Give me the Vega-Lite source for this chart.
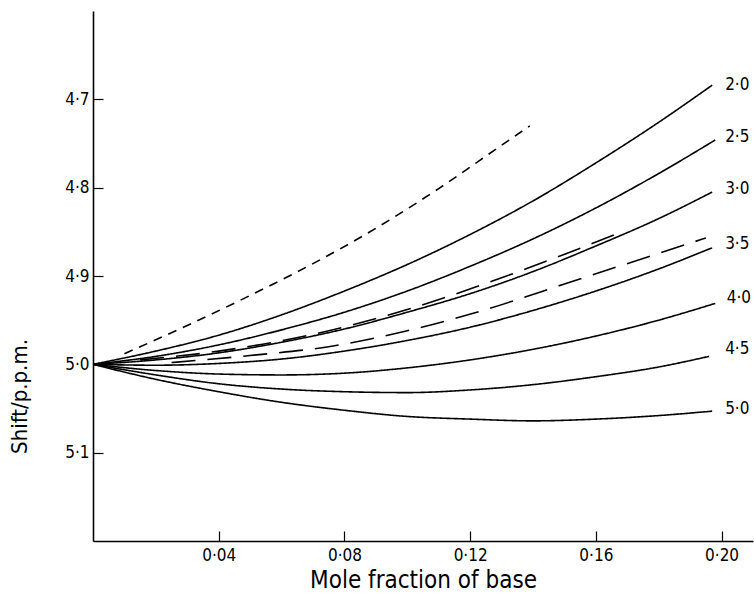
{
  "$schema": "https://vega.github.io/schema/vega-lite/v6.json",
  "autosize": {"type": "none"},
  "padding": {"left": 93, "top": 11, "right": 1, "bottom": 53},
  "width": 660,
  "height": 530,
  "background": "white",
  "config": {"view": {"stroke": null}, "font": "DejaVu Sans Condensed"},
  "datasets": {
    "curves": [
      {"series": "2.0", "style": "solid", "x": 0, "y": 5.0},
      {"series": "2.0", "style": "solid", "x": 0.02, "y": 4.985},
      {"series": "2.0", "style": "solid", "x": 0.04, "y": 4.967},
      {"series": "2.0", "style": "solid", "x": 0.06, "y": 4.944},
      {"series": "2.0", "style": "solid", "x": 0.08, "y": 4.917},
      {"series": "2.0", "style": "solid", "x": 0.10, "y": 4.887},
      {"series": "2.0", "style": "solid", "x": 0.12, "y": 4.853},
      {"series": "2.0", "style": "solid", "x": 0.14, "y": 4.815},
      {"series": "2.0", "style": "solid", "x": 0.16, "y": 4.772},
      {"series": "2.0", "style": "solid", "x": 0.18, "y": 4.726},
      {"series": "2.0", "style": "solid", "x": 0.197, "y": 4.684},
      {"series": "2.5", "style": "solid", "x": 0, "y": 5.0},
      {"series": "2.5", "style": "solid", "x": 0.02, "y": 4.991},
      {"series": "2.5", "style": "solid", "x": 0.04, "y": 4.978},
      {"series": "2.5", "style": "solid", "x": 0.06, "y": 4.961},
      {"series": "2.5", "style": "solid", "x": 0.08, "y": 4.941},
      {"series": "2.5", "style": "solid", "x": 0.10, "y": 4.917},
      {"series": "2.5", "style": "solid", "x": 0.12, "y": 4.889},
      {"series": "2.5", "style": "solid", "x": 0.14, "y": 4.858},
      {"series": "2.5", "style": "solid", "x": 0.16, "y": 4.823},
      {"series": "2.5", "style": "solid", "x": 0.18, "y": 4.784},
      {"series": "2.5", "style": "solid", "x": 0.198, "y": 4.746},
      {"series": "3.0", "style": "solid", "x": 0, "y": 5.0},
      {"series": "3.0", "style": "solid", "x": 0.02, "y": 4.995},
      {"series": "3.0", "style": "solid", "x": 0.04, "y": 4.987},
      {"series": "3.0", "style": "solid", "x": 0.06, "y": 4.975},
      {"series": "3.0", "style": "solid", "x": 0.08, "y": 4.960},
      {"series": "3.0", "style": "solid", "x": 0.10, "y": 4.941},
      {"series": "3.0", "style": "solid", "x": 0.12, "y": 4.920},
      {"series": "3.0", "style": "solid", "x": 0.14, "y": 4.895},
      {"series": "3.0", "style": "solid", "x": 0.16, "y": 4.866},
      {"series": "3.0", "style": "solid", "x": 0.18, "y": 4.835},
      {"series": "3.0", "style": "solid", "x": 0.197, "y": 4.805},
      {"series": "3.5", "style": "solid", "x": 0, "y": 5.0},
      {"series": "3.5", "style": "solid", "x": 0.02, "y": 5.001},
      {"series": "3.5", "style": "solid", "x": 0.04, "y": 4.999},
      {"series": "3.5", "style": "solid", "x": 0.06, "y": 4.994},
      {"series": "3.5", "style": "solid", "x": 0.08, "y": 4.985},
      {"series": "3.5", "style": "solid", "x": 0.10, "y": 4.973},
      {"series": "3.5", "style": "solid", "x": 0.12, "y": 4.958},
      {"series": "3.5", "style": "solid", "x": 0.14, "y": 4.939},
      {"series": "3.5", "style": "solid", "x": 0.16, "y": 4.917},
      {"series": "3.5", "style": "solid", "x": 0.18, "y": 4.892},
      {"series": "3.5", "style": "solid", "x": 0.197, "y": 4.868},
      {"series": "4.0", "style": "solid", "x": 0, "y": 5.0},
      {"series": "4.0", "style": "solid", "x": 0.02, "y": 5.007},
      {"series": "4.0", "style": "solid", "x": 0.04, "y": 5.011},
      {"series": "4.0", "style": "solid", "x": 0.06, "y": 5.012},
      {"series": "4.0", "style": "solid", "x": 0.08, "y": 5.010},
      {"series": "4.0", "style": "solid", "x": 0.10, "y": 5.004},
      {"series": "4.0", "style": "solid", "x": 0.12, "y": 4.995},
      {"series": "4.0", "style": "solid", "x": 0.14, "y": 4.983},
      {"series": "4.0", "style": "solid", "x": 0.16, "y": 4.968},
      {"series": "4.0", "style": "solid", "x": 0.18, "y": 4.950},
      {"series": "4.0", "style": "solid", "x": 0.198, "y": 4.931},
      {"series": "4.5", "style": "solid", "x": 0, "y": 5.0},
      {"series": "4.5", "style": "solid", "x": 0.02, "y": 5.012},
      {"series": "4.5", "style": "solid", "x": 0.04, "y": 5.022},
      {"series": "4.5", "style": "solid", "x": 0.06, "y": 5.028},
      {"series": "4.5", "style": "solid", "x": 0.08, "y": 5.031},
      {"series": "4.5", "style": "solid", "x": 0.10, "y": 5.032},
      {"series": "4.5", "style": "solid", "x": 0.12, "y": 5.029},
      {"series": "4.5", "style": "solid", "x": 0.14, "y": 5.023},
      {"series": "4.5", "style": "solid", "x": 0.16, "y": 5.014},
      {"series": "4.5", "style": "solid", "x": 0.18, "y": 5.003},
      {"series": "4.5", "style": "solid", "x": 0.196, "y": 4.991},
      {"series": "5.0", "style": "solid", "x": 0, "y": 5.0},
      {"series": "5.0", "style": "solid", "x": 0.02, "y": 5.017},
      {"series": "5.0", "style": "solid", "x": 0.04, "y": 5.031},
      {"series": "5.0", "style": "solid", "x": 0.06, "y": 5.043},
      {"series": "5.0", "style": "solid", "x": 0.08, "y": 5.052},
      {"series": "5.0", "style": "solid", "x": 0.10, "y": 5.059},
      {"series": "5.0", "style": "solid", "x": 0.12, "y": 5.062},
      {"series": "5.0", "style": "solid", "x": 0.14, "y": 5.064},
      {"series": "5.0", "style": "solid", "x": 0.16, "y": 5.062},
      {"series": "5.0", "style": "solid", "x": 0.18, "y": 5.058},
      {"series": "5.0", "style": "solid", "x": 0.197, "y": 5.053},
      {"series": "short", "style": "short", "x": 0.01, "y": 4.988},
      {"series": "short", "style": "short", "x": 0.03, "y": 4.956},
      {"series": "short", "style": "short", "x": 0.05, "y": 4.922},
      {"series": "short", "style": "short", "x": 0.07, "y": 4.886},
      {"series": "short", "style": "short", "x": 0.09, "y": 4.846},
      {"series": "short", "style": "short", "x": 0.11, "y": 4.801},
      {"series": "short", "style": "short", "x": 0.13, "y": 4.752},
      {"series": "short", "style": "short", "x": 0.139, "y": 4.730},
      {"series": "longA", "style": "long", "x": 0.015, "y": 4.995},
      {"series": "longA", "style": "long", "x": 0.04, "y": 4.985},
      {"series": "longA", "style": "long", "x": 0.07, "y": 4.966},
      {"series": "longA", "style": "long", "x": 0.10, "y": 4.938},
      {"series": "longA", "style": "long", "x": 0.13, "y": 4.902},
      {"series": "longA", "style": "long", "x": 0.169, "y": 4.849},
      {"series": "longB", "style": "long", "x": 0.025, "y": 4.998},
      {"series": "longB", "style": "long", "x": 0.05, "y": 4.990},
      {"series": "longB", "style": "long", "x": 0.075, "y": 4.980},
      {"series": "longB", "style": "long", "x": 0.10, "y": 4.962},
      {"series": "longB", "style": "long", "x": 0.125, "y": 4.938},
      {"series": "longB", "style": "long", "x": 0.15, "y": 4.909},
      {"series": "longB", "style": "long", "x": 0.176, "y": 4.879},
      {"series": "longB", "style": "long", "x": 0.195, "y": 4.857}
    ],
    "labels": [
      {"label": "2·0", "x": 0.205, "y": 4.684},
      {"label": "2·5", "x": 0.205, "y": 4.743},
      {"label": "3·0", "x": 0.205, "y": 4.802},
      {"label": "3·5", "x": 0.205, "y": 4.864},
      {"label": "4·0", "x": 0.2055, "y": 4.925},
      {"label": "4·5", "x": 0.205, "y": 4.983},
      {"label": "5·0", "x": 0.205, "y": 5.051}
    ]
  },
  "layer": [
    {
      "data": {"name": "curves"},
      "mark": {"type": "line", "color": "black", "strokeWidth": 1.6, "interpolate": "monotone"},
      "encoding": {
        "x": {
          "field": "x", "type": "quantitative",
          "scale": {"domain": [0, 0.21], "nice": false, "zero": false},
          "axis": {
            "title": "Mole fraction of base",
            "values": [0.04, 0.08, 0.12, 0.16, 0.2],
            "labelExpr": "replace(format(datum.value, '.2f'), '.', '·')",
            "grid": false,
            "domainColor": "black", "domainWidth": 1.6,
            "tickColor": "black", "tickWidth": 1.2, "tickSize": -10,
            "labelPadding": 16, "labelFontSize": 17, "labelColor": "black",
            "titleFontSize": 24, "titleFontWeight": "normal", "titleColor": "black",
            "titlePadding": 5
          }
        },
        "y": {
          "field": "y", "type": "quantitative",
          "scale": {"domain": [4.6, 5.2], "nice": false, "zero": false, "reverse": true},
          "axis": {
            "title": "Shift/p.p.m.",
            "values": [4.7, 4.8, 4.9, 5.0, 5.1],
            "labelExpr": "replace(format(datum.value, '.1f'), '.', '·')",
            "grid": false,
            "domainColor": "black", "domainWidth": 1.6,
            "tickColor": "black", "tickWidth": 1.2, "tickSize": -10,
            "labelPadding": 14, "labelFontSize": 17, "labelColor": "black",
            "titleFontSize": 22, "titleFontWeight": "normal", "titleColor": "black",
            "titleX": -62, "titleY": 385
          }
        },
        "detail": {"field": "series"},
        "strokeDash": {
          "field": "style", "type": "nominal",
          "scale": {"domain": ["solid", "long", "short"], "range": [[1, 0], [24, 12], [9, 7]]},
          "legend": null
        }
      }
    },
    {
      "data": {"name": "labels"},
      "mark": {"type": "text", "fontSize": 17, "color": "black", "align": "center", "baseline": "middle"},
      "encoding": {
        "x": {"field": "x", "type": "quantitative"},
        "y": {"field": "y", "type": "quantitative"},
        "text": {"field": "label"}
      }
    }
  ]
}
